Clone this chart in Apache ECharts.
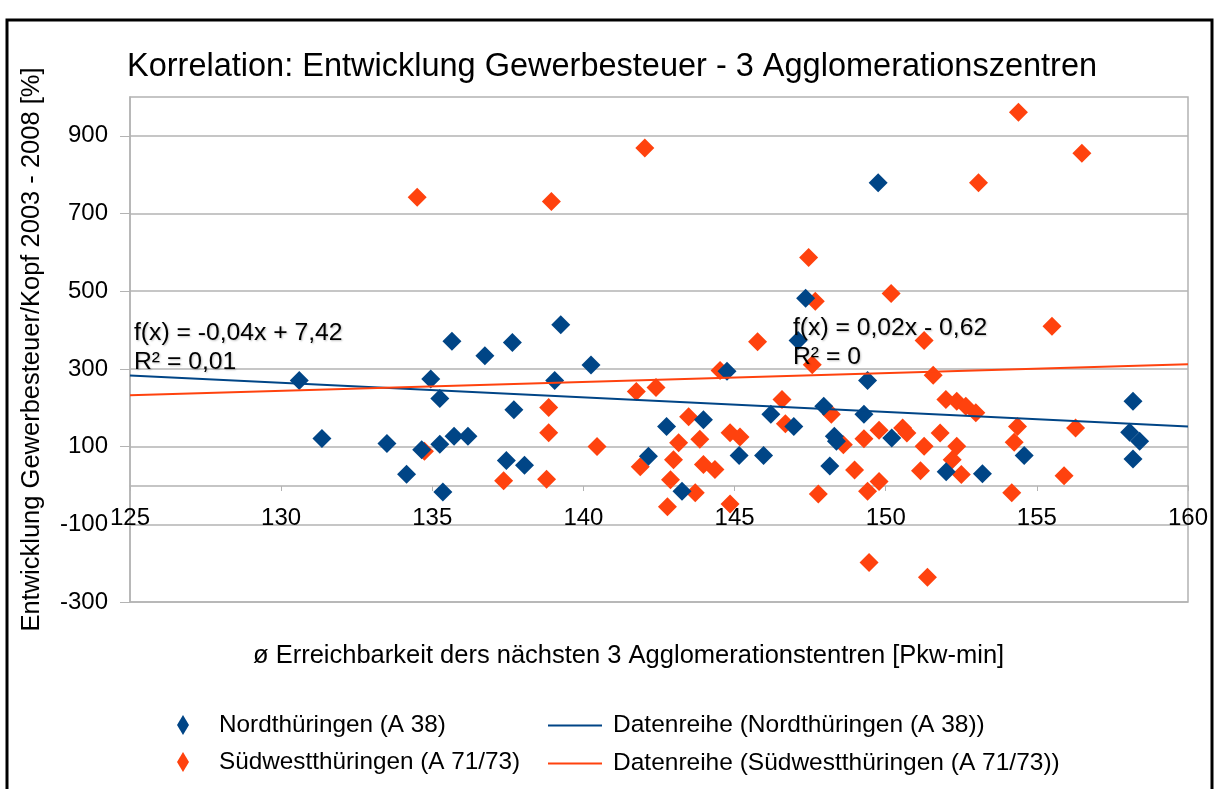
<!DOCTYPE html>
<html>
<head>
<meta charset="utf-8">
<script src="https://cdn.jsdelivr.net/npm/echarts@6/dist/echarts.min.js"></script>
<style>
html, body { margin: 0; padding: 0; background: #fff; }
#chart { width: 1219px; height: 789px; }
</style>
</head>
<body>
<div id="chart"></div>
<script>
var blueX = [130.6, 131.35, 133.5, 134.15, 134.65, 134.95, 135.25, 135.25, 135.35, 135.65, 135.72, 136.18, 136.74, 137.45, 137.65, 137.7, 138.05, 139.05, 139.25, 140.25, 142.15, 142.75, 143.26, 143.97, 144.75, 145.15, 145.96, 146.2, 146.96, 147.1, 147.35, 147.95, 148.15, 148.3, 148.37, 149.28, 149.4, 149.75, 150.2, 152.0, 153.2, 154.58, 158.18, 158.07, 158.4, 158.18];
var blueY = [270, 121, 108, 29, 92, 274, 224, 106, -17, 371, 127, 127, 334, 64, 368, 195, 52, 270, 414, 310, 75, 152, -15, 169, 294, 77, 77, 183, 152, 373, 482, 204, 50, 127, 114, 183, 270, 779, 122, 35, 30, 77, 217, 137, 114, 68];

var redX = [134.5, 134.74, 137.36, 138.78, 138.85, 138.85, 138.94, 140.45, 141.75, 141.88, 142.03, 142.4, 142.78, 142.88, 142.98, 143.15, 143.48, 143.7, 143.85, 143.97, 144.35, 144.52, 144.85, 144.85, 145.18, 145.76, 146.57, 146.68, 147.45, 147.57, 147.67, 147.77, 148.2, 148.6, 148.97, 149.28, 149.4, 149.45, 149.78, 149.78, 150.18, 150.56, 150.7, 151.15, 151.27, 151.27, 151.38, 151.57, 151.8, 151.99, 152.35, 152.65, 152.98, 152.35, 152.2, 152.5, 153.07, 154.17, 154.25, 154.36, 154.39, 155.5, 155.9, 156.28, 156.49];
var redY = [742, 88, 12, 16, 201, 136, 731, 100, 242, 48, 869, 252, -55, 15, 66, 110, 177, -19, 119, 54, 41, 296, 136, -48, 125, 370, 221, 159, 587, 311, 474, -22, 183, 105, 40, 120, -15, -198, 10, 142, 494, 148, 135, 38, 101, 373, -236, 284, 135, 221, 217, 204, 187, 101, 66, 28, 779, -19, 111, 152, 961, 410, 25, 148, 855];

var trendX = [125, 160];
var trendBlueY = [283, 152];
var trendRedY = [232, 312];

var yTicks = [-300, -100, 100, 300, 500, 700, 900];

var BLUE = '#004586';
var RED = '#ff420e';
var FONT = 'Liberation Sans';

function pairs(xs, ys) {
    return xs.map(function (x, i) { return [x, ys[i]]; });
}

var myChart = echarts.init(document.getElementById('chart'));
var option = {
    backgroundColor: '#fff',
    animation: false,
    textStyle: { fontFamily: FONT, color: '#000' },
    title: {
        text: 'Korrelation: Entwicklung Gewerbesteuer - 3 Agglomerationszentren',
        left: 122,
        top: 46,
        textStyle: { fontSize: 32.5, fontWeight: 'normal', color: '#000', fontFamily: FONT }
    },
    grid: {
        left: 130, right: 31, top: 97, bottom: 187,
        show: true, borderColor: '#b3b3b3', borderWidth: 1.5
    },
    xAxis: {
        type: 'value',
        min: 125, max: 160, interval: 5,
        position: 'bottom',
        offset: -116,
        axisLine: { onZero: false, lineStyle: { color: '#b3b3b3', width: 1.5 } },
        axisTick: { show: true, length: 5, lineStyle: { color: '#b3b3b3' } },
        axisLabel: { fontSize: 24, color: '#000', margin: 20, fontFamily: FONT },
        splitLine: { show: false }
    },
    yAxis: {
        type: 'value',
        min: -300, max: 1000,
        name: 'Entwicklung Gewerbesteuer/Kopf 2003 - 2008 [%]',
        nameLocation: 'middle',
        nameGap: 85,
        nameTextStyle: { fontSize: 25.5, color: '#000', fontFamily: FONT },
        axisLine: { show: true, lineStyle: { color: '#b3b3b3', width: 1.5 } },
        axisTick: { show: true, length: 10, customValues: yTicks, lineStyle: { color: '#b3b3b3' } },
        axisLabel: { fontSize: 24, color: '#000', margin: 22, customValues: yTicks, fontFamily: FONT },
        splitLine: { show: true, lineStyle: { color: '#b3b3b3', width: 1.5 } }
    },
    legend: [{
        orient: 'vertical',
        left: 172, top: 708,
        itemWidth: 12, itemHeight: 20, itemGap: 13,
        textStyle: { fontSize: 24.3, color: '#000', padding: [0, 0, 0, 25], fontFamily: FONT },
        data: [
            { name: 'Nordthüringen (A 38)', icon: 'diamond' },
            { name: 'Südwestthüringen (A 71/73)', icon: 'diamond' }
        ]
    }, {
        orient: 'vertical',
        left: 543, top: 708,
        itemWidth: 54, itemHeight: 20, itemGap: 13,
        textStyle: { fontSize: 24.5, color: '#000', padding: [0, 0, 0, 6], fontFamily: FONT },
        data: [
            { name: 'Datenreihe (Nordthüringen (A 38))', icon: 'path://M0,0L54,0L54,2L0,2Z' },
            { name: 'Datenreihe (Südwestthüringen (A 71/73))', icon: 'path://M0,0L54,0L54,2L0,2Z' }
        ]
    }],
    graphic: [{
        type: 'text',
        left: 253, top: 643,
        style: { text: 'ø Erreichbarkeit ders nächsten 3 Agglomerationstentren [Pkw-min]', fontSize: 25.5, fill: '#000', fontFamily: FONT }
    }, {
        type: 'text',
        left: 134, top: 319,
        z: 10,
        style: { text: 'f(x) = -0,04x + 7,42\nR² = 0,01', fontSize: 24.7, lineHeight: 29, fill: '#000', fontFamily: FONT,
                 textShadowColor: 'rgba(0,0,0,0.25)', textShadowBlur: 2, textShadowOffsetX: 1, textShadowOffsetY: 1 }
    }, {
        type: 'text',
        left: 793, top: 314,
        z: 10,
        style: { text: 'f(x) = 0,02x - 0,62\nR² = 0', fontSize: 24.7, lineHeight: 29, fill: '#000', fontFamily: FONT,
                 textShadowColor: 'rgba(0,0,0,0.25)', textShadowBlur: 2, textShadowOffsetX: 1, textShadowOffsetY: 1 }
    }, {
        type: 'rect',
        shape: { x: 7, y: 20, width: 1205, height: 800 },
        style: { fill: 'none', stroke: '#000', lineWidth: 3 },
        silent: true
    }],
    series: [{
        name: 'Nordthüringen (A 38)',
        type: 'scatter',
        symbol: 'diamond',
        symbolSize: 19,
        itemStyle: { color: BLUE, opacity: 1 },
        data: pairs(blueX, blueY),
        z: 3
    }, {
        name: 'Südwestthüringen (A 71/73)',
        type: 'scatter',
        symbol: 'diamond',
        symbolSize: 19,
        itemStyle: { color: RED, opacity: 1 },
        data: pairs(redX, redY),
        z: 2
    }, {
        name: 'Datenreihe (Nordthüringen (A 38))',
        type: 'line',
        symbol: 'none',
        lineStyle: { color: BLUE, width: 2 },
        itemStyle: { color: BLUE },
        data: pairs(trendX, trendBlueY),
        z: 4
    }, {
        name: 'Datenreihe (Südwestthüringen (A 71/73))',
        type: 'line',
        symbol: 'none',
        lineStyle: { color: RED, width: 2 },
        itemStyle: { color: RED },
        data: pairs(trendX, trendRedY),
        z: 4
    }]
};
if (option && typeof option == "object") {
    myChart.setOption(option, true);
}
</script>
</body>
</html>
